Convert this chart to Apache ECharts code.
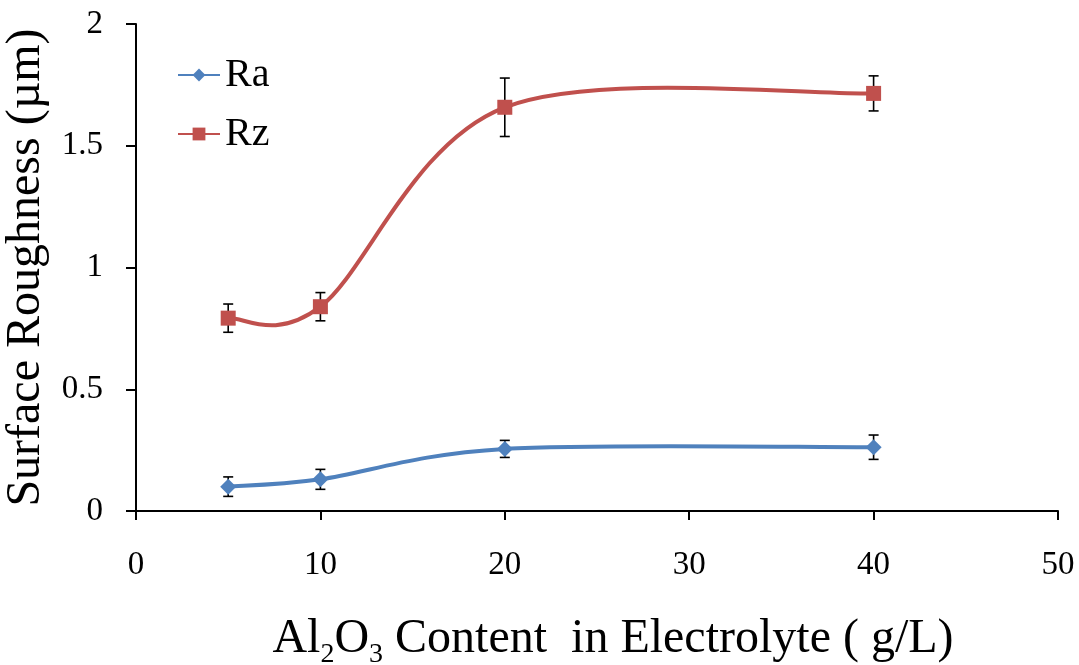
<!DOCTYPE html>
<html>
<head>
<meta charset="utf-8">
<script src="https://cdn.jsdelivr.net/npm/echarts@6/dist/echarts.min.js"></script>
<style>
  html, body { margin: 0; padding: 0; background: #fff; }
  #chart { width: 1079px; height: 665px; }
</style>
</head>
<body>
<div id="chart"></div>
<script>
// Al2O3 content in the electrolyte (g/L)
const content = [5, 10, 20, 40];
// Mean surface roughness (µm) and the half-width of each error bar
const raValues = [0.10, 0.13, 0.255, 0.262];
const raErrors = [0.04, 0.041, 0.035, 0.05];
const rzValues = [0.792, 0.839, 1.658, 1.715];
const rzErrors = [0.058, 0.058, 0.12, 0.072];
// Axis ticks
const xTicks = [0, 10, 20, 30, 40, 50];
const yTicks = [0, 0.5, 1, 1.5, 2];

const FONT = '"Liberation Serif", "DejaVu Serif", serif';
const RA_COLOR = '#4F81BD';
const RZ_COLOR = '#C0504D';

const pairs = (vals) => content.map((x, i) => [x, vals[i]]);
const errorRows = (vals, errs) => content.map((x, i) => [x, vals[i], errs[i]]);

// Vertical error bar with caps at value ± error
function renderErrorBar(params, api) {
  const x = api.value(0), y = api.value(1), e = api.value(2);
  const top = api.coord([x, y + e]);
  const bot = api.coord([x, y - e]);
  const half = 5;
  const style = { stroke: '#000', lineWidth: 1.6 };
  return {
    type: 'group',
    children: [
      { type: 'line', shape: { x1: top[0], y1: top[1], x2: bot[0], y2: bot[1] }, style },
      { type: 'line', shape: { x1: top[0] - half, y1: top[1], x2: top[0] + half, y2: top[1] }, style },
      { type: 'line', shape: { x1: bot[0] - half, y1: bot[1], x2: bot[0] + half, y2: bot[1] }, style }
    ]
  };
}

// Smoothed connecting curve (Catmull-Rom style Bezier segments between
// consecutive points, the same kind of smoothing spreadsheet charts use)
function curveRenderer(values, color) {
  return function (params, api) {
    const i = params.dataIndex;
    const n = content.length;
    if (i >= n - 1) return null;
    const P = content.map((x, k) => api.coord([x, values[k]]));
    const p0 = P[Math.max(i - 1, 0)], p1 = P[i], p2 = P[i + 1], p3 = P[Math.min(i + 2, n - 1)];
    const k = 1 / 6;
    return {
      type: 'bezierCurve',
      shape: {
        x1: p1[0], y1: p1[1], x2: p2[0], y2: p2[1],
        cpx1: p1[0] + (p2[0] - p0[0]) * k, cpy1: p1[1] + (p2[1] - p0[1]) * k,
        cpx2: p2[0] - (p3[0] - p1[0]) * k, cpy2: p2[1] - (p3[1] - p1[1]) * k
      },
      style: { stroke: color, lineWidth: 4, fill: null, lineCap: 'round' }
    };
  };
}

const chart = echarts.init(document.getElementById('chart'), null, { renderer: 'canvas' });

chart.setOption({
  animation: false,
  backgroundColor: '#fff',
  grid: { left: 136, right: 21, top: 24, bottom: 154, containLabel: false, outerBoundsMode: 'none' },
  legend: {
    data: ['Ra', 'Rz'],
    orient: 'vertical',
    left: 172,
    top: 50,
    itemWidth: 42,
    itemHeight: 16,
    itemGap: 19,
    lineStyle: { opacity: 1 },
    textStyle: { fontFamily: FONT, fontSize: 40, color: '#000' }
  },
  xAxis: {
    type: 'value',
    min: xTicks[0],
    max: xTicks[xTicks.length - 1],
    interval: 10,
    name: '{a|Al}{s|2}{a|O}{s|3}{a| Content  in Electrolyte ( g/L)}',
    nameLocation: 'middle',
    nameGap: 98,
    nameTextStyle: {
      padding: [0, 0, 0, 32],
      rich: {
        a: { fontFamily: FONT, fontSize: 48, color: '#000', lineHeight: 60, verticalAlign: 'middle' },
        s: { fontFamily: FONT, fontSize: 28, color: '#000', lineHeight: 26, verticalAlign: 'bottom' }
      }
    },
    axisLine: { lineStyle: { color: '#000', width: 2 } },
    axisTick: { show: true, length: 9, inside: false, lineStyle: { color: '#000', width: 2 } },
    axisLabel: { fontFamily: FONT, fontSize: 33, color: '#000', margin: 38 },
    splitLine: { show: false }
  },
  yAxis: {
    type: 'value',
    min: yTicks[0],
    max: yTicks[yTicks.length - 1],
    interval: 0.5,
    name: 'Surface Roughness (µm)',
    nameLocation: 'middle',
    nameRotate: 90,
    nameGap: 73,
    nameTextStyle: { fontFamily: FONT, fontSize: 48, color: '#000' },
    axisLine: { show: true, lineStyle: { color: '#000', width: 2 } },
    axisTick: { show: true, length: 10, inside: false, lineStyle: { color: '#000', width: 2 } },
    axisLabel: { fontFamily: FONT, fontSize: 33, color: '#000', margin: 33 },
    splitLine: { show: false }
  },
  series: [
    {
      name: 'Ra-err', type: 'custom', renderItem: renderErrorBar,
      data: errorRows(raValues, raErrors), z: 1, silent: true
    },
    {
      name: 'Rz-err', type: 'custom', renderItem: renderErrorBar,
      data: errorRows(rzValues, rzErrors), z: 1, silent: true
    },
    {
      name: 'Ra-curve', type: 'custom', renderItem: curveRenderer(raValues, RA_COLOR),
      data: pairs(raValues), z: 2, silent: true
    },
    {
      name: 'Rz-curve', type: 'custom', renderItem: curveRenderer(rzValues, RZ_COLOR),
      data: pairs(rzValues), z: 2, silent: true
    },
    {
      name: 'Ra',
      type: 'line',
      data: pairs(raValues),
      symbol: 'diamond',
      symbolSize: 16,
      showAllSymbol: true,
      lineStyle: { color: RA_COLOR, width: 4, opacity: 0 },
      itemStyle: { color: RA_COLOR },
      z: 3
    },
    {
      name: 'Rz',
      type: 'line',
      data: pairs(rzValues),
      symbol: 'rect',
      symbolSize: 15,
      showAllSymbol: true,
      lineStyle: { color: RZ_COLOR, width: 4, opacity: 0 },
      itemStyle: { color: RZ_COLOR },
      z: 3
    }
  ]
});
</script>
</body>
</html>
